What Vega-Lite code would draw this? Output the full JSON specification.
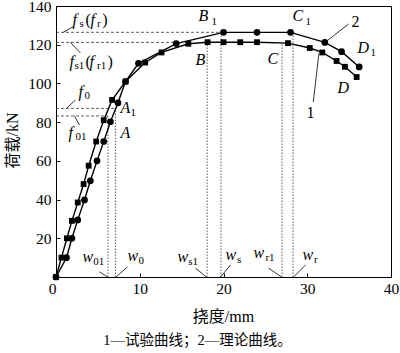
{
  "$schema": "https://vega.github.io/schema/vega-lite/v6.json",
  "autosize": {"type": "none"},
  "width": 335,
  "height": 271,
  "padding": {"left": 56, "top": 6, "right": 9, "bottom": 76},
  "background": "white",
  "config": {
    "view": {"stroke": "black", "strokeWidth": 1},
    "axis": {
      "labelFont": "Liberation Serif",
      "labelFontSize": 15.5,
      "labelColor": "black",
      "titleFont": "Liberation Serif, Noto Sans CJK SC",
      "titleFontSize": 16,
      "titleFontWeight": "normal",
      "titleColor": "black",
      "domainColor": "black",
      "tickColor": "black",
      "grid": false
    },
    "title": {"font": "Liberation Serif, Noto Sans CJK SC", "fontSize": 14.5, "fontWeight": "normal", "color": "black"}
  },
  "title": {"text": "1—试验曲线；2—理论曲线。", "orient": "bottom", "anchor": "middle", "dx": -26, "offset": 10},
  "datasets": {
    "curves": [
      {"v": 0, "L": 0, "s": "1"}, {"v": 0.65, "L": 10, "s": "1"}, {"v": 1.3, "L": 20, "s": "1"}, {"v": 1.9, "L": 29, "s": "1"},
      {"v": 2.6, "L": 38.5, "s": "1"}, {"v": 3.3, "L": 48, "s": "1"}, {"v": 3.9, "L": 57.5, "s": "1"}, {"v": 4.8, "L": 70, "s": "1"},
      {"v": 5.7, "L": 81, "s": "1"}, {"v": 6.7, "L": 91.5, "s": "1"}, {"v": 8.3, "L": 101, "s": "1"}, {"v": 10.65, "L": 110.8, "s": "1"},
      {"v": 12.6, "L": 116, "s": "1"}, {"v": 15.8, "L": 120.5, "s": "1"}, {"v": 18.1, "L": 121.3, "s": "1"}, {"v": 20, "L": 121.3, "s": "1"},
      {"v": 22, "L": 121.3, "s": "1"}, {"v": 24, "L": 121.3, "s": "1"}, {"v": 27.7, "L": 120.8, "s": "1"}, {"v": 30.3, "L": 118.3, "s": "1"},
      {"v": 31.8, "L": 116, "s": "1"}, {"v": 33.5, "L": 111.6, "s": "1"}, {"v": 34.5, "L": 108.6, "s": "1"}, {"v": 35.9, "L": 103.3, "s": "1"},
      {"v": 0, "L": 0, "s": "2"}, {"v": 1.25, "L": 10, "s": "2"}, {"v": 1.9, "L": 20, "s": "2"}, {"v": 2.6, "L": 29.5, "s": "2"},
      {"v": 3.4, "L": 39.8, "s": "2"}, {"v": 4.1, "L": 49.7, "s": "2"}, {"v": 4.9, "L": 60, "s": "2"}, {"v": 5.7, "L": 70, "s": "2"},
      {"v": 6.5, "L": 80.2, "s": "2"}, {"v": 7.4, "L": 90, "s": "2"}, {"v": 8.3, "L": 101, "s": "2"}, {"v": 9.85, "L": 110.4, "s": "2"},
      {"v": 14.35, "L": 120.6, "s": "2"}, {"v": 20, "L": 126.4, "s": "2"}, {"v": 24, "L": 126.4, "s": "2"}, {"v": 28, "L": 126.4, "s": "2"},
      {"v": 32.1, "L": 121.2, "s": "2"}, {"v": 34.1, "L": 116.4, "s": "2"}, {"v": 36.2, "L": 108.5, "s": "2"}
    ],
    "hlines": [
      {"v": 0, "L": 126.4, "v2": 20, "L2": 126.4},
      {"v": 0, "L": 121.2, "v2": 14.3, "L2": 121.2},
      {"v": 0, "L": 87.1, "v2": 7.1, "L2": 87.1},
      {"v": 0, "L": 83.2, "v2": 6.2, "L2": 83.2}
    ],
    "vlines": [
      {"v": 6.2, "L": 0, "v2": 6.2, "L2": 83.2},
      {"v": 7.1, "L": 0, "v2": 7.1, "L2": 87.1},
      {"v": 18.05, "L": 0, "v2": 18.05, "L2": 121.2},
      {"v": 19.7, "L": 0, "v2": 19.7, "L2": 126.4},
      {"v": 27.0, "L": 0, "v2": 27.0, "L2": 121.2},
      {"v": 28.3, "L": 0, "v2": 28.3, "L2": 126.4}
    ],
    "leaders": [
      {"v": 2.04, "L": 129.3, "v2": 0.88, "L2": 126.4},
      {"v": 2.92, "L": 115.7, "v2": 1.72, "L2": 121.2},
      {"v": 2.32, "L": 91.4, "v2": 1.24, "L2": 87.1},
      {"v": 2.8, "L": 78.5, "v2": 2.2, "L2": 83.2},
      {"v": 5.19, "L": 2.7, "v2": 6.14, "L2": 0},
      {"v": 8.53, "L": 5.2, "v2": 7.17, "L2": 0},
      {"v": 16.65, "L": 4.6, "v2": 17.97, "L2": 0},
      {"v": 20.84, "L": 6.2, "v2": 19.64, "L2": 0},
      {"v": 25.38, "L": 4.6, "v2": 26.93, "L2": 0},
      {"v": 29.8, "L": 6.2, "v2": 28.36, "L2": 0},
      {"v": 34.93, "L": 130.7, "v2": 32.39, "L2": 122.1},
      {"v": 30.72, "L": 90.4, "v2": 31.39, "L2": 115.5}
    ],
    "labels": [
      {"v": 1.96, "L": 132.7, "t": "f", "k": "base"},
      {"v": 3.51, "L": 132.7, "t": "(", "k": "plain"},
      {"v": 4.11, "L": 132.7, "t": "f", "k": "base"},
      {"v": 5.51, "L": 132.7, "t": ")", "k": "plain"},
      {"v": 2.8, "L": 130.7, "t": "s", "k": "sub"},
      {"v": 4.91, "L": 130.7, "t": "r", "k": "sub"},
      {"v": 1.6, "L": 111.1, "t": "f", "k": "base"},
      {"v": 3.51, "L": 111.1, "t": "(", "k": "plain"},
      {"v": 3.99, "L": 111.1, "t": "f", "k": "base"},
      {"v": 6.14, "L": 111.1, "t": ")", "k": "plain"},
      {"v": 2.2, "L": 109.0, "t": "s1", "k": "sub"},
      {"v": 4.91, "L": 109.0, "t": "r1", "k": "sub"},
      {"v": 2.68, "L": 95.6, "t": "f", "k": "base"},
      {"v": 3.39, "L": 93.5, "t": "0", "k": "sub"},
      {"v": 1.48, "L": 74.4, "t": "f", "k": "base"},
      {"v": 2.32, "L": 72.3, "t": "01", "k": "sub"},
      {"v": 7.69, "L": 87.3, "t": "A", "k": "base"},
      {"v": 8.89, "L": 84.7, "t": "1", "k": "sub"},
      {"v": 7.69, "L": 74.4, "t": "A", "k": "base"},
      {"v": 17.01, "L": 134.8, "t": "B", "k": "base"},
      {"v": 18.57, "L": 131.7, "t": "1", "k": "sub"},
      {"v": 16.65, "L": 112.1, "t": "B", "k": "base"},
      {"v": 28.24, "L": 134.8, "t": "C", "k": "base"},
      {"v": 29.8, "L": 131.7, "t": "1", "k": "sub"},
      {"v": 25.26, "L": 112.6, "t": "C", "k": "base"},
      {"v": 36.01, "L": 118.3, "t": "D", "k": "base"},
      {"v": 37.56, "L": 115.7, "t": "1", "k": "sub"},
      {"v": 33.62, "L": 97.6, "t": "D", "k": "base"},
      {"v": 35.29, "L": 131.7, "t": "2", "k": "plain"},
      {"v": 29.92, "L": 84.7, "t": "1", "k": "plain"},
      {"v": 3.15, "L": 10.3, "t": "w", "k": "base"},
      {"v": 4.45, "L": 7.7, "t": "01", "k": "sub"},
      {"v": 8.53, "L": 10.8, "t": "w", "k": "base"},
      {"v": 9.85, "L": 8.3, "t": "0", "k": "sub"},
      {"v": 14.5, "L": 10.3, "t": "w", "k": "base"},
      {"v": 15.8, "L": 7.7, "t": "s1", "k": "sub"},
      {"v": 20.24, "L": 11.4, "t": "w", "k": "base"},
      {"v": 21.6, "L": 8.8, "t": "s", "k": "sub"},
      {"v": 23.58, "L": 12.4, "t": "w", "k": "base"},
      {"v": 25.0, "L": 9.8, "t": "r1", "k": "sub"},
      {"v": 29.44, "L": 11.4, "t": "w", "k": "base"},
      {"v": 30.8, "L": 8.8, "t": "r", "k": "sub"}
    ]
  },
  "encoding": {
    "x": {
      "field": "v", "type": "quantitative",
      "scale": {"domain": [0, 40], "nice": false},
      "axis": {
        "values": [0, 10, 20, 30, 40],
        "title": "挠度/mm",
        "tickSize": -4,
        "labelPadding": 8,
        "labelAlign": {"condition": {"test": "datum.value == 0", "value": "right"}, "value": "center"},
        "titleX": 167,
        "titleY": 39,
        "titleBaseline": "middle"
      }
    },
    "y": {
      "field": "L", "type": "quantitative",
      "scale": {"domain": [0, 140], "nice": false},
      "axis": {
        "values": [0, 20, 40, 60, 80, 100, 120, 140],
        "title": "荷载/kN",
        "tickSize": -4,
        "labelPadding": 9,
        "labelExpr": "datum.value == 0 ? '' : datum.label",
        "titleAngle": 270,
        "titleX": -44,
        "titleY": 134,
        "titleAlign": "center",
        "titleBaseline": "middle"
      }
    }
  },
  "layer": [
    {
      "data": {"name": "hlines"},
      "mark": {"type": "rule", "color": "#333", "strokeWidth": 0.8, "strokeDash": [3, 2]},
      "encoding": {"x2": {"field": "v2"}, "y2": {"field": "L2"}}
    },
    {
      "data": {"name": "vlines"},
      "mark": {"type": "rule", "color": "#777", "strokeWidth": 1.2, "strokeDash": [1.5, 1.5]},
      "encoding": {"x2": {"field": "v2"}, "y2": {"field": "L2"}}
    },
    {
      "data": {"name": "leaders"},
      "mark": {"type": "rule", "color": "black", "strokeWidth": 0.8},
      "encoding": {"x2": {"field": "v2"}, "y2": {"field": "L2"}}
    },
    {
      "data": {"name": "curves"},
      "mark": {"type": "line", "color": "black", "strokeWidth": 1.4},
      "encoding": {"detail": {"field": "s"}}
    },
    {
      "data": {"name": "curves"},
      "mark": {"type": "point", "filled": true, "color": "black", "opacity": 1},
      "encoding": {
        "shape": {"field": "s", "type": "nominal", "scale": {"domain": ["1", "2"], "range": ["square", "circle"]}, "legend": null},
        "size": {"field": "s", "type": "nominal", "scale": {"domain": ["1", "2"], "range": [34, 45]}, "legend": null}
      }
    },
    {
      "data": {"name": "labels"},
      "transform": [{"filter": "datum.k == 'base'"}],
      "mark": {"type": "text", "font": "Liberation Serif", "fontStyle": "italic", "fontSize": 16, "align": "left", "baseline": "middle", "color": "black"},
      "encoding": {"text": {"field": "t"}}
    },
    {
      "data": {"name": "labels"},
      "transform": [{"filter": "datum.k == 'plain'"}],
      "mark": {"type": "text", "font": "Liberation Serif", "fontSize": 16, "align": "left", "baseline": "middle", "color": "black"},
      "encoding": {"text": {"field": "t"}}
    },
    {
      "data": {"name": "labels"},
      "transform": [{"filter": "datum.k == 'sub'"}],
      "mark": {"type": "text", "font": "Liberation Serif", "fontSize": 11, "align": "left", "baseline": "middle", "color": "black"},
      "encoding": {"text": {"field": "t"}}
    }
  ]
}
